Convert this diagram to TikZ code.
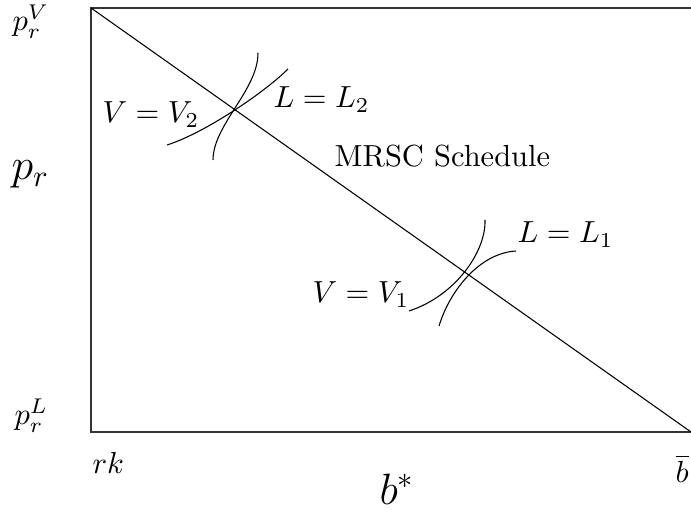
\documentclass[tikz,border=0pt]{standalone}
\usepackage{tikz}
\usetikzlibrary{positioning}

\begin{document}
\begin{tikzpicture}[
            x=0.328pt, y=-0.328pt,
            frame/.style={line width=0.4pt, black!80},
            curve/.style={line width=0.35pt},
            varlabel/.style={font=\normalsize, inner sep=0pt, anchor=base west},
            axlabel/.style={font=\Large, inner sep=0pt, anchor=base west}
        ]
        \useasboundingbox (0,0) rectangle (691,514);

        % Ecken
        \coordinate (tl) at (91,8);
        \coordinate (tr) at (691,8);
        \coordinate (bl) at (91,432);
        \coordinate (br) at (691,432);

        % Rahmen
        \draw[frame] (tr) -- (tl) -- (bl) -- (br);
        \draw[curve] (tl) -- (br);

        % Kurven
        \draw[curve] (167,145) .. controls (205,133) and (265,92) .. (288,69);
        \draw[curve] (213,160) .. controls (213,125) and (258,90) .. (258,53);
        \draw[curve] (409,311) .. controls (455,296) and (486,252) .. (485,220);
        \draw[curve] (439,326) .. controls (450,290) and (480,253) .. (516,251);

        % Beschriftungen
        \node[varlabel] (pv) at (12,31) {$p_r^V$};
        \node[axlabel] (pr) at (11,180) {$p_r$};
        \node[varlabel] (pl) at (14,425) {$p_r^L$};
        \node[varlabel] (rk) at (92,473) {$rk$};
        \node[axlabel] (bstar) at (379,504) {$b^*$};
        \node[varlabel] (bbar) at (675,482) {$\overline{b}$};
        \node[varlabel] (v2) at (102,123) {$V = V_2$};
        \node[varlabel] (l2) at (273,108) {$L = L_2$};
        \node[varlabel] (mrsc) at (334,167) {MRSC Schedule};
        \node[varlabel] (l1) at (517,243) {$L = L_1$};
        \node[varlabel] (v1) at (312,303) {$V = V_1$};

    \end{tikzpicture}
\end{document}
